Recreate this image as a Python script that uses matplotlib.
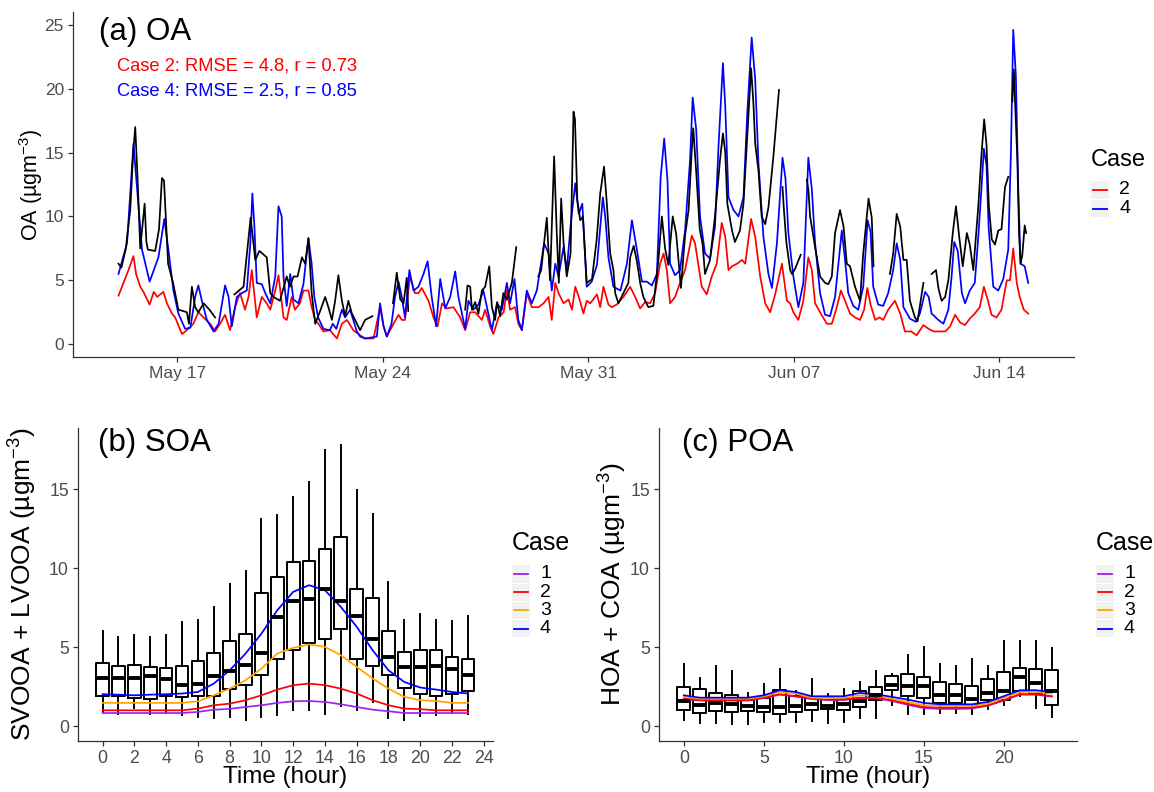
import numpy as np
import pandas as pd
import matplotlib
matplotlib.use("Agg")
import matplotlib.pyplot as plt
import matplotlib.dates as mdates
from matplotlib.patches import Rectangle

plt.rcParams["font.family"] = ["Liberation Sans", "DejaVu Sans"]
plt.rcParams["mathtext.fontset"] = "custom"
plt.rcParams["mathtext.rm"] = "Liberation Sans"
plt.rcParams["mathtext.it"] = "Liberation Sans:italic"

# ---------------- data: panel (a), days since May 15 00:00 ----------------
start = pd.Timestamp("2019-05-15")

obs_day = [0, 0.1, 0.25, 0.4, 0.5, 0.57, 0.65, 0.74, 0.89, 0.95, 1.0, 1.25, 1.38, 1.48, 1.55, 1.69, 1.86, 2.04, 2.2, 2.33, 2.4, 2.5, 2.61, 2.72, 2.9, 3.1, 3.29,
           3.6,
           3.95, 4.26, 4.5, 4.66, 4.8, 4.95, 5.05, 5.17, 5.28, 5.5, 5.73, 5.84, 5.96, 6.1, 6.25, 6.36, 6.47, 6.58, 6.7, 6.87, 7.04, 7.15, 7.27, 7.38, 7.49, 7.61, 7.72, 7.83, 7.95, 8.06, 8.23, 8.4, 8.57, 8.65,
           9.0,
           9.35, 9.48, 9.6, 9.71, 9.82, 9.87,
           10.8,
           11.81, 11.89, 11.98, 12.04, 12.15, 12.26, 12.38, 12.49, 12.63, 12.72, 12.83, 12.9, 13.0, 13.11, 13.23, 13.4, 13.55,
           13.9,
           14.3, 14.4, 14.59, 14.7, 14.84, 14.93, 15.0, 15.08, 15.16, 15.27, 15.4, 15.5, 15.55, 15.63, 15.73, 15.82, 15.95, 16.07, 16.13, 16.29, 16.41, 16.54, 16.63, 16.75, 16.86, 16.92, 17.03, 17.2, 17.37, 17.43, 17.55, 17.66, 17.77, 17.88, 18.05, 18.22, 18.39, 18.51, 18.62, 18.73, 18.88, 19.0, 19.16, 19.3, 19.42, 19.53, 19.58, 19.68, 19.8, 19.9, 19.98, 20.15, 20.32, 20.49, 20.59, 20.67, 20.74, 20.9, 21.0, 21.17, 21.29, 21.4, 21.55, 21.63, 21.69, 21.8, 21.91, 22.03, 22.14, 22.31, 22.5,
           22.56,
           22.62, 22.66, 22.75, 22.88, 22.94, 23.05, 23.24,
           23.35,
           23.45, 23.5, 23.56, 23.73, 23.9, 24.07, 24.18, 24.3, 24.41, 24.58, 24.7, 24.81, 24.92, 25.09, 25.26, 25.37, 25.55, 25.66, 25.72,
           26.0,
           26.28, 26.39, 26.51, 26.63, 26.74, 26.85, 26.96, 27.13, 27.22, 27.3, 27.42,
           27.55,
           27.7, 27.85, 27.93, 28.04, 28.16, 28.27, 28.42, 28.53, 28.64, 28.76, 28.9, 29.0, 29.12, 29.29, 29.4, 29.49, 29.57, 29.65, 29.75, 29.86, 29.97, 30.08, 30.2, 30.31,
           30.38,
           30.45, 30.5, 30.62, 30.68, 30.73, 30.79, 30.87, 30.92]
obs_oa = [6.3, 6.0, 7.5, 10.5, 15.0, 17.0, 13.0, 7.5, 11.0, 8.0, 7.4, 7.3, 9.0, 13.0, 12.8, 6.3, 4.8, 2.7, 2.6, 2.5, 1.6, 4.5, 2.9, 2.5, 3.2, 2.7, 2.1,
          np.nan,
          3.9, 4.5, 9.9, 6.6, 7.3, 7.0, 6.8, 4.0, 3.7, 3.4, 5.3, 4.5, 5.3, 5.3, 6.8, 6.3, 8.3, 4.0, 1.6, 2.6, 3.7, 2.9, 1.9, 3.4, 5.4, 3.4, 2.2, 3.4, 2.4, 1.9, 1.1, 1.9, 2.1, 2.2,
          np.nan,
          3.2, 5.6, 3.5, 3.2, 5.2, 2.6,
          np.nan,
          2.7, 4.6, 4.5, 2.7, 3.3, 2.4, 4.2, 4.5, 6.1, 2.9, 1.9, 3.3, 2.2, 4.0, 3.5, 4.8, 7.6,
          np.nan,
          5.3, 5.8, 9.9, 5.0, 14.7, 8.7, 4.8, 11.4, 8.0, 5.3, 7.1, 18.2, 17.6, 11.3, 9.7, 10.0, 4.8, 5.0, 5.1, 8.2, 11.8, 13.9, 11.2, 7.1, 5.8, 4.0, 3.2, 4.0, 4.8, 6.8, 7.7, 6.5, 4.8, 3.7, 2.9, 3.0, 6.5, 10.0, 7.5, 6.2, 10.0, 8.6, 4.4, 8.5, 10.5, 15.2, 16.9, 13.5, 9.0, 7.8, 5.5, 6.6, 10.0, 14.4, 16.5, 15.0, 11.0, 8.9, 8.0, 8.9, 11.0, 15.5, 21.6, 18.8, 15.7, 13.6, 10.0, 9.4, 10.7, 14.7, 19.9,
          np.nan,
          12.3, 10.8, 8.0, 5.8, 5.5, 5.9, 7.0,
          np.nan,
          12.9, 12.1, 10.0, 7.6, 5.3, 4.8, 4.7, 5.3, 8.7, 10.5, 9.2, 6.3, 6.1, 4.5, 3.4, 7.1, 11.4, 9.9, 6.1,
          np.nan,
          5.5, 7.1, 10.2, 9.2, 6.6, 6.6, 3.4, 2.1, 1.8, 3.0, 4.8,
          np.nan,
          5.5, 5.8, 4.4, 3.4, 3.7, 5.0, 8.7, 10.8, 8.4, 6.1, 8.7, 7.8, 5.8, 10.8, 14.9, 17.6, 15.6, 10.8, 8.2, 7.8, 8.9, 9.0, 12.3, 13.1,
          np.nan,
          19.0, 21.5, 14.4, 8.5, 6.3, 7.0, 9.3, 8.7]

case2_day = [0, 0.34, 0.51, 0.6, 0.74, 0.85, 1.06, 1.2, 1.32, 1.53, 1.65, 1.82, 1.93, 2.16, 2.33, 2.55, 2.72, 2.9, 3.12, 3.29, 3.46, 3.63, 3.8, 3.97, 4.14, 4.31, 4.43, 4.54, 4.71, 4.88, 5.05, 5.17, 5.34, 5.45, 5.62, 5.73, 5.9, 6.01, 6.18, 6.3, 6.47, 6.58, 6.7, 6.81, 6.98, 7.2, 7.44, 7.61, 7.78, 8.0, 8.23, 8.4, 8.69, 8.91, 9.03, 9.14, 9.37, 9.54, 9.65, 9.76, 9.93, 10.1, 10.22, 10.33, 10.56, 10.73, 10.87, 11.02, 11.18, 11.41, 11.64, 11.81, 11.98, 12.15, 12.38, 12.49, 12.66, 12.77, 12.95, 13.12, 13.23, 13.34, 13.51, 13.62, 13.74, 13.91, 14.08, 14.31, 14.48, 14.65, 14.76, 14.88, 14.99, 15.16, 15.33, 15.45, 15.56, 15.68, 15.84, 15.95, 16.07, 16.3, 16.41, 16.52, 16.69, 16.8, 16.97, 17.2, 17.43, 17.6, 17.77, 17.94, 18.11, 18.28, 18.45, 18.57, 18.68, 18.79, 18.96, 19.13, 19.3, 19.41, 19.53, 19.64, 19.75, 19.87, 20.04, 20.21, 20.38, 20.55, 20.67, 20.78, 20.9, 21.07, 21.24, 21.35, 21.46, 21.55, 21.69, 21.86, 22.03, 22.2, 22.37, 22.6, 22.77, 22.88, 22.99, 23.16, 23.33, 23.5, 23.62, 23.73, 23.9, 24.13, 24.3, 24.47, 24.61, 24.75, 24.92, 25.09, 25.26, 25.4, 25.51, 25.62, 25.78, 25.92, 26.05, 26.22, 26.45, 26.63, 26.79, 27.0, 27.19, 27.42, 27.6, 27.77, 28.0, 28.17, 28.33, 28.5, 28.67, 28.84, 29.0, 29.17, 29.34, 29.48, 29.62, 29.74, 29.91, 30.08, 30.26, 30.37, 30.48, 30.6, 30.7, 30.84, 30.99]
case2_oa = [3.8, 5.8, 6.9, 5.5, 4.5, 4.1, 3.1, 4.1, 3.7, 4.1, 3.2, 2.4, 2.1, 0.8, 1.1, 1.6, 2.5, 2.1, 1.6, 1.0, 1.6, 2.3, 1.1, 2.9, 4.0, 2.7, 3.7, 5.8, 2.1, 3.7, 3.2, 2.7, 4.2, 5.4, 2.1, 1.9, 3.7, 2.7, 3.2, 4.2, 4.2, 2.9, 1.9, 1.6, 1.0, 1.1, 0.45, 1.6, 1.9, 1.1, 0.7, 0.45, 0.45, 2.9, 1.4, 0.6, 1.6, 2.3, 1.9, 1.9, 5.3, 4.0, 4.0, 4.4, 3.4, 2.1, 1.4, 3.2, 2.8, 2.9, 2.1, 1.1, 2.5, 2.5, 1.9, 2.7, 1.4, 0.8, 2.1, 2.5, 4.2, 2.7, 2.9, 1.6, 1.1, 4.0, 2.9, 2.9, 3.2, 3.7, 1.9, 4.8, 4.0, 3.2, 3.5, 2.7, 4.5, 3.7, 2.4, 3.4, 3.2, 3.9, 2.9, 4.5, 3.1, 2.9, 3.1, 3.7, 4.5, 3.7, 2.8, 3.3, 3.2, 4.0, 6.3, 7.1, 5.8, 3.2, 3.7, 4.8, 5.8, 7.1, 8.5, 7.9, 6.3, 4.5, 3.9, 5.3, 6.3, 9.5, 8.4, 5.8, 6.1, 6.3, 6.6, 6.3, 8.2, 9.8, 8.4, 5.3, 3.2, 2.5, 3.9, 6.3, 3.4, 3.2, 2.5, 1.9, 3.4, 6.8, 5.8, 3.2, 2.5, 1.6, 1.6, 2.9, 4.2, 3.4, 2.4, 2.1, 1.9, 2.7, 4.4, 3.1, 1.9, 2.1, 1.9, 2.7, 3.4, 2.4, 1.0, 1.0, 0.7, 1.5, 1.2, 1.0, 1.0, 1.0, 1.4, 2.3, 1.7, 1.5, 2.0, 2.4, 2.9, 4.5, 3.4, 2.3, 2.1, 2.7, 5.0, 5.0, 7.5, 4.8, 3.7, 2.7, 2.4]

case4_day = [0, 0.29, 0.51, 0.63, 0.8, 1.06, 1.36, 1.56, 1.7, 1.87, 2.04, 2.27, 2.45, 2.61, 2.72, 2.84, 3.01, 3.24, 3.41, 3.63, 3.75, 3.86, 4.03, 4.2, 4.37, 4.49, 4.56, 4.63, 4.71, 4.88, 5.0, 5.17, 5.34, 5.45, 5.56, 5.62, 5.73, 5.85, 5.96, 6.13, 6.3, 6.47, 6.58, 6.67, 6.8, 6.98, 7.2, 7.3, 7.42, 7.61, 7.72, 7.89, 8.12, 8.23, 8.4, 8.8, 8.91, 9.03, 9.14, 9.3, 9.42, 9.54, 9.65, 9.76, 9.91, 10.05, 10.22, 10.39, 10.53, 10.67, 10.82, 10.96, 11.13, 11.3, 11.47, 11.58, 11.81, 11.92, 12.09, 12.26, 12.43, 12.55, 12.72, 12.89, 13.06, 13.23, 13.34, 13.49, 13.62, 13.74, 13.91, 14.08, 14.25, 14.5, 14.65, 14.76, 14.88, 14.99, 15.16, 15.27, 15.41, 15.56, 15.68, 15.8, 15.95, 16.12, 16.3, 16.5, 16.58, 16.69, 16.86, 17.1, 17.32, 17.49, 17.66, 17.83, 18.0, 18.17, 18.34, 18.47, 18.59, 18.7, 18.79, 18.96, 19.13, 19.3, 19.47, 19.56, 19.68, 19.81, 19.98, 20.15, 20.32, 20.44, 20.59, 20.67, 20.78, 20.95, 21.12, 21.29, 21.42, 21.57, 21.69, 21.8, 21.97, 22.14, 22.26, 22.43, 22.62, 22.72, 22.82, 22.99, 23.16, 23.33, 23.5, 23.62, 23.73, 23.9, 24.07, 24.24, 24.41, 24.64, 24.75, 24.86, 25.03, 25.2, 25.37, 25.52, 25.62, 25.71, 25.88, 26.05, 26.22, 26.39, 26.51, 26.63, 26.74, 26.96, 27.17, 27.3, 27.48, 27.6, 27.7, 27.93, 28.1, 28.27, 28.38, 28.47, 28.59, 28.73, 28.84, 29.0, 29.17, 29.29, 29.4, 29.48, 29.57, 29.64, 29.8, 29.97, 30.14, 30.31, 30.4, 30.48, 30.57, 30.65, 30.73, 30.87, 30.99]
case4_oa = [5.5, 7.9, 15.7, 12.3, 7.4, 4.9, 6.8, 9.8, 7.4, 4.2, 2.4, 1.2, 1.3, 3.7, 4.6, 3.4, 1.9, 1.0, 1.6, 4.6, 3.7, 1.4, 3.7, 4.0, 4.2, 7.9, 11.8, 9.2, 4.8, 4.7, 4.0, 3.2, 5.3, 10.8, 10.0, 5.3, 3.0, 5.5, 3.5, 3.2, 4.7, 8.3, 6.3, 3.7, 2.1, 1.2, 1.1, 1.6, 1.2, 2.7, 2.1, 2.7, 1.0, 0.6, 0.45, 0.6, 3.2, 1.4, 0.6, 1.6, 3.7, 4.9, 3.7, 2.1, 5.8, 4.2, 4.5, 5.5, 6.5, 3.7, 1.4, 5.1, 2.8, 3.7, 5.7, 3.7, 1.2, 3.4, 2.7, 3.1, 4.2, 2.9, 1.1, 3.2, 2.7, 4.8, 3.2, 5.1, 1.9, 1.1, 4.2, 3.2, 4.2, 7.9, 7.1, 4.2, 6.3, 5.3, 7.6, 5.8, 9.5, 12.6, 10.2, 11.0, 4.5, 4.9, 6.2, 11.5, 10.0, 6.8, 4.5, 4.2, 6.3, 9.7, 7.4, 4.9, 4.9, 4.6, 5.5, 13.1, 16.1, 12.9, 6.3, 5.4, 5.8, 8.9, 14.4, 19.3, 16.8, 10.0, 7.1, 6.7, 9.2, 15.5, 22.0, 18.6, 11.5, 10.5, 10.0, 11.5, 18.1, 24.0, 20.7, 14.2, 8.4, 5.5, 4.4, 7.9, 14.6, 13.0, 8.7, 5.3, 2.9, 4.8, 14.6, 12.1, 7.9, 4.0, 2.3, 2.2, 3.7, 8.9, 6.6, 4.0, 3.0, 2.7, 4.5, 9.7, 8.8, 4.5, 3.1, 3.0, 4.0, 5.8, 7.9, 6.6, 2.9, 2.0, 1.75, 2.4, 4.1, 3.7, 2.4, 1.9, 1.6, 2.7, 5.3, 8.0, 7.3, 4.0, 3.2, 4.2, 4.8, 8.4, 12.3, 15.3, 14.0, 9.2, 4.5, 4.2, 5.1, 7.4, 14.9, 24.6, 21.0, 12.3, 6.3, 6.1, 4.8]

# ---------------- data: panels (b) and (c), diurnal ----------------
hours = list(range(24))

soa_q1 = [1.9, 1.9, 1.79, 1.71, 1.9, 1.86, 1.9, 1.94, 2.38, 2.6, 3.23, 4.26, 4.85, 5.27, 5.49, 6.12, 4.28, 3.82, 3.23, 2.43, 2.07, 1.9, 2.03, 2.22]
soa_med = [3.06, 3.06, 3.06, 3.19, 3.02, 2.64, 2.7, 3.16, 3.5, 3.86, 4.66, 6.92, 7.95, 8.06, 8.65, 7.95, 6.98, 5.51, 4.35, 3.76, 3.73, 3.84, 3.65, 3.27]
soa_q3 = [4.03, 3.82, 3.86, 3.76, 3.69, 3.82, 4.11, 4.64, 5.4, 5.86, 8.4, 9.45, 10.4, 10.44, 11.18, 11.98, 8.67, 8.12, 6.01, 4.7, 4.85, 4.81, 4.39, 4.24]
soa_lo = [0.9, 0.8, 1.18, 0.8, 0.84, 0.7, 0.6, 0.53, 0.6, 0.38, 0.6, 0.7, 1.0, 1.05, 0.76, 1.27, 1.0, 1.54, 0.53, 0.38, 0.63, 0.7, 0.86, 0.8]
soa_hi = [6.01, 5.65, 5.8, 5.63, 5.76, 6.6, 6.75, 7.55, 8.99, 9.83, 13.08, 13.38, 14.47, 15.44, 17.5, 17.78, 14.94, 13.42, 9.14, 6.75, 7.07, 6.71, 6.65, 6.98]

soa_case1 = [0.84, 0.84, 0.84, 0.84, 0.84, 0.84, 0.91, 1.05, 1.1, 1.22, 1.33, 1.48, 1.58, 1.6, 1.54, 1.39, 1.22, 1.05, 0.95, 0.84, 0.84, 0.84, 0.84, 0.84]
soa_case2 = [1.01, 1.01, 1.01, 1.01, 1.01, 1.01, 1.12, 1.33, 1.43, 1.65, 1.96, 2.32, 2.6, 2.7, 2.6, 2.38, 2.07, 1.65, 1.33, 1.12, 1.08, 1.01, 1.01, 1.01]
soa_case3 = [1.48, 1.48, 1.48, 1.48, 1.48, 1.48, 1.58, 1.96, 2.38, 2.91, 3.65, 4.6, 4.96, 5.17, 5.02, 4.49, 3.76, 3.02, 2.38, 1.86, 1.65, 1.6, 1.48, 1.48]
soa_case4 = [2.03, 2.0, 1.96, 2.0, 2.03, 2.07, 2.17, 2.7, 3.54, 4.6, 5.86, 7.34, 8.5, 8.92, 8.6, 7.55, 6.29, 4.81, 3.54, 2.8, 2.45, 2.32, 2.17, 2.07]

poa_q1 = [1.05, 0.86, 0.95, 0.91, 0.95, 0.91, 0.76, 0.91, 1.05, 1.12, 1.01, 1.22, 1.69, 2.32, 1.9, 1.79, 1.48, 1.48, 1.33, 1.65, 1.69, 2.22, 2.03, 1.33]
poa_med = [1.58, 1.37, 1.48, 1.39, 1.29, 1.22, 1.22, 1.29, 1.39, 1.29, 1.39, 1.58, 1.96, 2.6, 2.53, 2.53, 1.96, 1.96, 1.75, 2.11, 2.22, 3.12, 2.74, 2.24]
poa_q3 = [2.49, 2.38, 2.11, 1.96, 1.65, 1.79, 2.28, 1.9, 1.86, 1.86, 1.75, 2.24, 2.49, 3.16, 3.33, 3.12, 2.81, 2.66, 2.55, 2.97, 3.44, 3.71, 3.63, 3.59]
poa_lo = [0.42, 0.21, 0.21, 0.17, 0.17, 0.27, 0.27, 0.27, 0.34, 0.21, 0.27, 0.55, 0.53, 1.33, 0.76, 0.76, 0.84, 0.84, 0.76, 1.12, 1.33, 1.9, 1.18, 0.59]
poa_hi = [3.92, 3.08, 3.8, 3.5, 2.11, 2.66, 3.65, 2.22, 3.02, 2.03, 2.38, 2.81, 3.48, 3.33, 4.49, 5.02, 3.97, 3.8, 4.28, 3.8, 5.4, 5.4, 5.4, 4.92]

poa_case1 = [1.72, 1.63, 1.63, 1.63, 1.63, 1.78, 2.0, 1.88, 1.72, 1.66, 1.66, 1.78, 1.78, 1.6, 1.36, 1.15, 1.1, 1.1, 1.12, 1.3, 1.63, 2.0, 2.0, 1.88]
poa_case2 = [1.75, 1.65, 1.65, 1.65, 1.65, 1.81, 2.03, 1.9, 1.75, 1.69, 1.69, 1.81, 1.81, 1.65, 1.43, 1.22, 1.18, 1.18, 1.18, 1.33, 1.65, 2.03, 2.03, 1.9]
poa_case3 = [1.86, 1.75, 1.75, 1.75, 1.75, 1.9, 2.17, 2.07, 1.81, 1.79, 1.79, 1.96, 1.94, 1.75, 1.54, 1.33, 1.29, 1.29, 1.29, 1.43, 1.79, 2.17, 2.17, 2.07]
poa_case4 = [1.96, 1.81, 1.81, 1.81, 1.81, 1.96, 2.28, 2.17, 1.9, 1.9, 1.9, 2.11, 2.03, 1.86, 1.69, 1.48, 1.39, 1.39, 1.39, 1.54, 1.9, 2.28, 2.28, 2.17]

case_labels = ["1", "2", "3", "4"]
case_colors = ["#A020F0", "#FF0000", "#FFA500", "#0000FF"]

# ---------------- figure ----------------
W, H = 1154, 792
fig = plt.figure(figsize=(W / 100, H / 100), dpi=100)


def rect(l, t, r, b):
    return [l / W, 1 - b / H, (r - l) / W, (b - t) / H]


def style(ax, tick_size):
    for s in ["top", "right"]:
        ax.spines[s].set_visible(False)
    for s in ["left", "bottom"]:
        ax.spines[s].set_color("#333333")
        ax.spines[s].set_linewidth(0.9)
    ax.tick_params(direction="out", length=3.5, width=0.9, color="#333333",
                   labelcolor="#4D4D4D", labelsize=tick_size, pad=3)


# panel (a)
ax_a = fig.add_axes(rect(73, 12, 1074, 357))
t_obs = start + pd.to_timedelta(obs_day, unit="D")
t_c2 = start + pd.to_timedelta(case2_day, unit="D")
t_c4 = start + pd.to_timedelta(case4_day, unit="D")
ax_a.plot(t_c2, case2_oa, color="#FF0000", lw=1.25)
ax_a.plot(t_c4, case4_oa, color="#0000FF", lw=1.25)
ax_a.plot(t_obs, obs_oa, color="black", lw=1.25)
ax_a.set_xlim(start - pd.Timedelta(days=1.55), start + pd.Timedelta(days=32.55))
ax_a.set_ylim(-1.0, 26.0)
ax_a.set_yticks([0, 5, 10, 15, 20, 25])
ax_a.set_xticks([start + pd.Timedelta(days=d) for d in (2, 9, 16, 23, 30)])
ax_a.xaxis.set_major_formatter(mdates.DateFormatter("%b %d"))
style(ax_a, 12.5)
ax_a.set_ylabel("OA (µgm$^{-3}$)", fontsize=15.5)
ax_a.yaxis.set_label_coords(-0.028, 0.5)


def diurnal(ax, q1, med, q3, lo, hi, cases, xticks, ylabel):
    stats = [dict(med=m, q1=a, q3=b, whislo=l, whishi=h, fliers=[])
             for a, m, b, l, h in zip(q1, med, q3, lo, hi)]
    ax.bxp(stats, positions=hours, widths=0.8, showfliers=False, showcaps=False,
           boxprops=dict(color="black", lw=1.4),
           whiskerprops=dict(color="black", lw=1.4),
           medianprops=dict(color="black", lw=2.8))
    for vals, col in zip(cases, case_colors):
        ax.plot(hours, vals, color=col, lw=1.25)
    ax.set_xlim(-1.55, 24.58)
    ax.set_ylim(-0.93, 18.86)
    ax.set_xticks(xticks)
    ax.set_xticklabels([str(x) for x in xticks])
    ax.set_yticks([0, 5, 10, 15])
    style(ax, 12.8)
    ax.set_xlabel("Time (hour)", fontsize=17.5)
    ax.xaxis.set_label_coords(0.5, -0.08)
    ax.set_ylabel(ylabel, fontsize=19)


ax_b = fig.add_axes(rect(78, 428, 493, 741))
diurnal(ax_b, soa_q1, soa_med, soa_q3, soa_lo, soa_hi,
        [soa_case1, soa_case2, soa_case3, soa_case4], list(range(0, 25, 2)),
        "SVOOA + LVOOA (µgm$^{-3}$)")
ax_b.yaxis.set_label_coords(-0.093, 0.5)

ax_c = fig.add_axes(rect(659, 428, 1077, 741))
diurnal(ax_c, poa_q1, poa_med, poa_q3, poa_lo, poa_hi,
        [poa_case1, poa_case2, poa_case3, poa_case4], [0, 5, 10, 15, 20],
        "HOA + COA (µgm$^{-3}$)")
ax_c.yaxis.set_label_coords(-0.071, 0.5)

# overlay in pixel coordinates for titles, notes and legends
ov = fig.add_axes([0, 0, 1, 1], facecolor="none")
ov.set_xlim(0, W)
ov.set_ylim(H, 0)
ov.axis("off")

ov.text(99, 32, "(a) OA", fontsize=22.5, va="center", ha="left")
ov.text(98, 443, "(b) SOA", fontsize=22.5, va="center", ha="left")
ov.text(682, 443, "(c) POA", fontsize=22.5, va="center", ha="left")
ov.text(117, 66, "Case 2: RMSE = 4.8, r = 0.73", color="#FF0000", fontsize=13.2, va="center")
ov.text(117, 91, "Case 4: RMSE = 2.5, r = 0.85", color="#0000FF", fontsize=13.2, va="center")


def legend(x, y_title, y0, step, labels, colors, title_size, label_size):
    ov.text(x, y_title, "Case", fontsize=title_size, va="center", ha="left")
    for i, (lab, col) in enumerate(zip(labels, colors)):
        yc = y0 + i * step
        ov.add_patch(Rectangle((x, yc - step / 2 + 0.5), 17.5, step - 1, color="#F2F2F2", lw=0))
        ov.plot([x + 1.5, x + 16], [yc, yc], color=col, lw=1.3)
        ov.text(x + 28, yc, lab, fontsize=label_size, va="center", ha="left")


legend(1091, 160, 190, 18.5, ["2", "4"], ["#FF0000", "#0000FF"], 17, 14)
legend(512, 543, 574, 18.2, case_labels, case_colors, 18, 14)
legend(1096, 543, 574, 18.2, case_labels, case_colors, 18, 14)

fig.savefig("out.png", dpi=100)
